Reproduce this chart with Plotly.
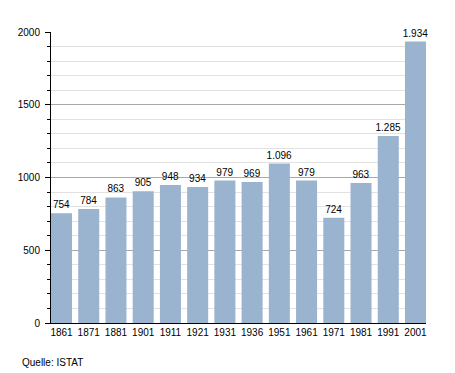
import plotly.graph_objects as go

years = ["1861", "1871", "1881", "1901", "1911", "1921", "1931", "1936", "1951", "1961", "1971", "1981", "1991", "2001"]
population = [754, 784, 863, 905, 948, 934, 979, 969, 1096, 979, 724, 963, 1285, 1934]
labels = ["754", "784", "863", "905", "948", "934", "979", "969", "1.096", "979", "724", "963", "1.285", "1.934"]
y_ticks = [0, 500, 1000, 1500, 2000]

BAR_W = 0.772
FONT = "Liberation Sans, Arial"

fig = go.Figure(go.Bar(
    x=years, y=population, text=labels, textposition="outside",
    constraintext="none",
    marker=dict(color="#9ab3cf", line=dict(width=0)),
    textfont=dict(family=FONT, size=10, color="black"),
    cliponaxis=False, width=BAR_W,
))

# page body has an 8px default margin, so the figure is sized to compensate
fig.update_layout(
    width=447, height=365,
    margin=dict(l=43, r=29, t=24, b=50, autoexpand=False),
    paper_bgcolor="white", plot_bgcolor="white",
    font=dict(family=FONT, size=10, color="black"),
    showlegend=False,
    xaxis=dict(type="category", range=[-BAR_W / 2, len(years) - 1 + BAR_W / 2],
               showline=True, linecolor="black", linewidth=1,
               ticks="", showgrid=False, tickfont=dict(size=10), automargin=False),
    yaxis=dict(range=[0, 2000], tickvals=y_ticks, showline=True, linecolor="black",
               linewidth=1, ticks="outside", ticklen=5, tickcolor="black",
               showgrid=True, gridcolor="#a8a8a8", gridwidth=1, zeroline=False,
               tickfont=dict(size=10), automargin=False, ticklabelstandoff=3,
               minor=dict(dtick=100, tick0=0, showgrid=True, gridcolor="#e2e2e2",
                          ticks="outside", ticklen=3, tickcolor="black")),
    annotations=[dict(text="Quelle: ISTAT", xref="paper", yref="paper",
                      x=-31/375, y=(323-362)/291, xanchor="left", yanchor="middle",
                      showarrow=False, font=dict(size=10, color="black"))],
)

fig.write_html("out.html")
